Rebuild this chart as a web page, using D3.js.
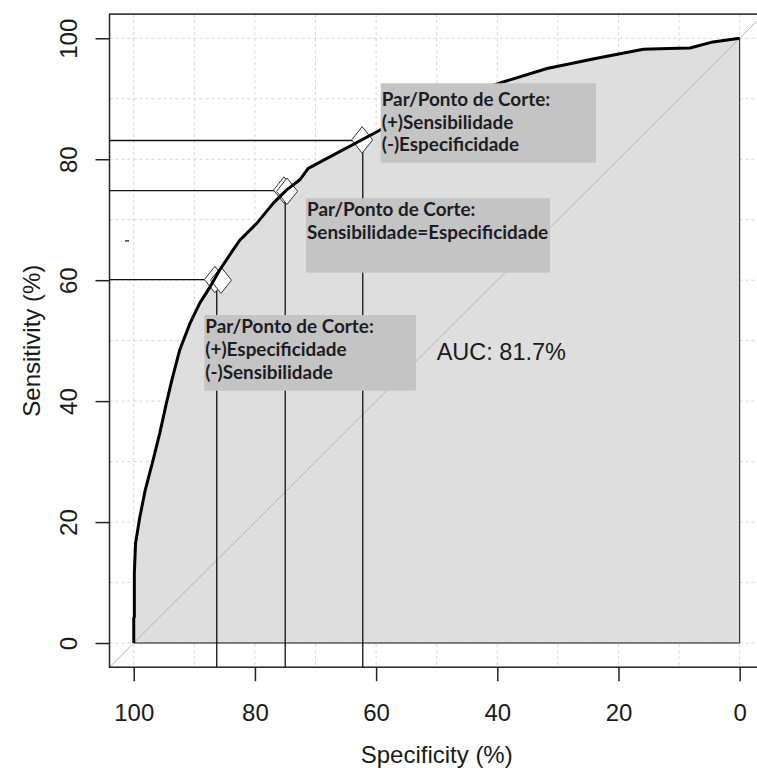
<!DOCTYPE html>
<html>
<head>
<meta charset="utf-8">
<script src="https://cdn.jsdelivr.net/npm/d3@7"></script>
<style>
  html, body { margin: 0; padding: 0; background: #fff; }
  svg { display: block; }
</style>
</head>
<body>
<svg id="chart" width="757" height="768"></svg>
<script>
// ---------------- DATA ----------------
// ROC curve points (specificity %, sensitivity %)
const specificity = [100, 100, 99.9, 99.9, 99.7, 99.0, 98.1, 96.8, 95.7, 94.6, 93.7, 92.4, 90.7, 89.1, 87.4, 85.8, 83.6, 82.5, 79.7, 77.0, 74.8, 72.6, 71.2, 59.4, 49.5, 39.3, 31.8, 23.6, 15.9, 11.8, 8.2, 4.4, 0];
const sensitivity = [0, 4.1, 4.3, 11.6, 16.5, 20.8, 25.3, 30.3, 34.7, 39.7, 43.5, 48.5, 52.9, 56.2, 58.9, 61.7, 65.0, 66.6, 69.4, 72.7, 74.9, 76.6, 78.5, 84.8, 89.1, 92.7, 95.0, 96.7, 98.2, 98.3, 98.4, 99.4, 100];

// cut-off points (drop lines)
const cutSpec = [86.3, 75.0, 62.2];
const cutSens = [60.1, 74.8, 83.1];

// diamond markers
const markerSpec = [86.6, 85.6, 75.2, 74.7, 62.3];
const markerSens = [60.1, 60.0, 74.9, 74.7, 83.2];

// axis ticks
const xTicks = [100, 80, 60, 40, 20, 0];
const yTicks = [0, 20, 40, 60, 80, 100];
const gridValues = [0, 10, 20, 30, 40, 50, 60, 70, 80, 90, 100];

// texts
const xTitle = "Specificity (%)";
const yTitle = "Sensitivity (%)";
const aucText = "AUC: 81.7%";
const annoLines = [
  ["Par/Ponto de Corte:", "(+)Sensibilidade", "(-)Especificidade"],
  ["Par/Ponto de Corte:", "Sensibilidade=Especificidade"],
  ["Par/Ponto de Corte:", "(+)Especificidade", "(-)Sensibilidade"]
];
// stray mark seen in the picture
const strayMark = [{spec: 101.1, sens: 66.5}];

// ---------------- LAYOUT ----------------
const svg = d3.select("#chart");
const x = d3.scaleLinear().domain([104, -4]).range([109.5, 763.9]);
const y = d3.scaleLinear().domain([-4, 104]).range([667.2, 14.1]);
const [bx0, bx1] = x.range();
const [by0, by1] = [y(-4), y(104)];

// annotation boxes in data units: [specLeft, specRight, sensTop, sensBottom, firstBaselineOffset]
const annoLayout = [
  [59.24, 23.7, 92.56, 79.43, 23.0],
  [71.57, 31.3, 73.54, 61.24, 18.0],
  [88.35, 53.42, 54.24, 41.72, 18.3]
];

const axisFont = "'Liberation Sans', Arial, sans-serif";
const ink = "#1a1a1a";

svg.append("defs").append("clipPath").attr("id", "plotclip")
  .append("rect").attr("x", bx0).attr("y", by1).attr("width", bx1 - bx0).attr("height", by0 - by1);

const plot = svg.append("g").attr("clip-path", "url(#plotclip)");

// grid
plot.append("g").selectAll("line.v").data(gridValues).join("line")
  .attr("x1", d => x(d)).attr("x2", d => x(d)).attr("y1", by1).attr("y2", by0)
  .attr("stroke", "#d6d6d6").attr("stroke-width", 1).attr("stroke-dasharray", "3,3");
plot.append("g").selectAll("line.h").data(gridValues).join("line")
  .attr("y1", d => y(d)).attr("y2", d => y(d)).attr("x1", bx0).attr("x2", bx1)
  .attr("stroke", "#d6d6d6").attr("stroke-width", 1).attr("stroke-dasharray", "3,3");

// AUC polygon
const curvePts = specificity.map((s, i) => [s, sensitivity[i]]);
const polyPts = curvePts.concat([[0, 0]]);
plot.append("path")
  .attr("d", d3.line().x(d => x(d[0])).y(d => y(d[1]))(polyPts) + "Z")
  .attr("fill", "#dedede").attr("stroke", "#111").attr("stroke-width", 1);

// identity line
plot.append("line")
  .attr("x1", x(104)).attr("y1", y(-4)).attr("x2", x(-4)).attr("y2", y(104))
  .attr("stroke", "#b4b4b4").attr("stroke-width", 1);

// cut-off drop lines
const cuts = cutSpec.map((s, i) => ({s, v: cutSens[i]}));
plot.append("g").selectAll("line").data(cuts).join("line")
  .attr("x1", d => x(d.s)).attr("x2", d => x(d.s)).attr("y1", by0).attr("y2", d => y(d.v))
  .attr("stroke", "#111").attr("stroke-width", 1.3);
plot.append("g").selectAll("line").data(cuts).join("line")
  .attr("x1", bx0).attr("x2", d => x(d.s)).attr("y1", d => y(d.v)).attr("y2", d => y(d.v))
  .attr("stroke", "#111").attr("stroke-width", 1.3);

// diamonds
const hw = 10.5, hh = 13.2;
plot.append("g").selectAll("path").data(markerSpec.map((s, i) => ({s, v: markerSens[i]}))).join("path")
  .attr("d", d => {
    const cx = x(d.s), cy = y(d.v);
    return `M${cx},${cy - hh}L${cx + hw},${cy}L${cx},${cy + hh}L${cx - hw},${cy}Z`;
  })
  .attr("fill", "#fff").attr("stroke", "#333").attr("stroke-width", 1);

// ROC curve
plot.append("path")
  .attr("d", d3.line().x(d => x(d[0])).y(d => y(d[1]))(curvePts))
  .attr("fill", "none").attr("stroke", "#000").attr("stroke-width", 3).attr("stroke-linejoin", "round");

// stray mark
plot.append("g").selectAll("rect").data(strayMark).join("rect")
  .attr("x", d => x(d.spec) - 2).attr("y", d => y(d.sens) - 0.8).attr("width", 4).attr("height", 1.6)
  .attr("fill", "#444");

// frame
svg.append("rect").attr("x", bx0).attr("y", by1).attr("width", bx1 - bx0).attr("height", by0 - by1)
  .attr("fill", "none").attr("stroke", "#222").attr("stroke-width", 1.5);

// x axis
const xAxis = svg.append("g").attr("transform", `translate(0,${by0})`)
  .call(d3.axisBottom(x).tickValues(xTicks).tickSize(14).tickPadding(23).tickFormat(d3.format("d")));
xAxis.select(".domain").remove();
xAxis.selectAll(".tick line").attr("stroke", "#222").attr("stroke-width", 1.5);
xAxis.selectAll(".tick text").attr("font-family", axisFont).attr("font-size", 24).attr("fill", ink);

// y axis
const yAxis = svg.append("g").attr("transform", `translate(${bx0},0)`)
  .call(d3.axisLeft(y).tickValues(yTicks).tickSize(14).tickFormat(d3.format("d")));
yAxis.select(".domain").remove();
yAxis.selectAll(".tick line").attr("stroke", "#222").attr("stroke-width", 1.5);
yAxis.selectAll(".tick text")
  .attr("x", null).attr("dy", null)
  .attr("text-anchor", "middle")
  .attr("transform", "translate(-33,0) rotate(-90)")
  .attr("font-family", axisFont).attr("font-size", 24).attr("fill", ink);

// titles
svg.append("text").attr("x", (bx0 + bx1) / 2).attr("y", 763).attr("text-anchor", "middle")
  .attr("font-family", axisFont).attr("font-size", 24).attr("fill", ink).text(xTitle);
svg.append("text").attr("transform", `translate(39.5,${(by0 + by1) / 2}) rotate(-90)`).attr("text-anchor", "middle")
  .attr("font-family", axisFont).attr("font-size", 24).attr("fill", ink).text(yTitle);

// AUC text
svg.append("text").attr("x", x(50)).attr("y", y(46.8))
  .attr("font-family", axisFont).attr("font-size", 23.5).attr("fill", ink).text(aucText);

// annotation boxes
const annoFont = "Lato, 'Open Sans', sans-serif";
const probe = svg.append("text").attr("font-family", annoFont).attr("font-weight", "bold")
  .attr("font-size", 17).text(annoLines[0][0]);
const w = probe.node().getComputedTextLength();
probe.remove();
const annoSize = 17 * 168.6 / w;

annoLayout.forEach((b, i) => {
  const g = svg.append("g");
  const left = x(b[0]), right = x(b[1]), top = y(b[2]), bottom = y(b[3]);
  g.append("rect").attr("x", left).attr("y", top).attr("width", right - left).attr("height", bottom - top)
    .attr("fill", "#c4c4c4");
  annoLines[i].forEach((t, j) => {
    g.append("text").attr("x", left + 1).attr("y", top + b[4] + j * 22.6)
      .attr("font-family", annoFont).attr("font-weight", "bold").attr("font-size", annoSize)
      .attr("fill", "#1c1c24").text(t);
  });
});
</script>
</body>
</html>
